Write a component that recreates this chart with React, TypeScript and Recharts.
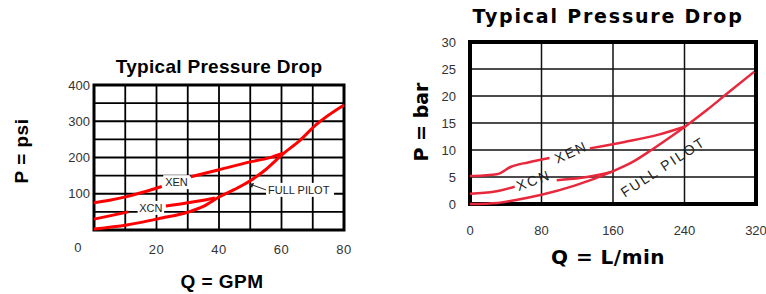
import React from "react";
import {
  LineChart,
  Line,
  XAxis,
  YAxis,
  CartesianGrid,
  ReferenceArea,
  ReferenceDot,
} from "recharts";

// ---- left chart: psi vs GPM ----
const gpmTicks = [0, 20, 40, 60, 80];
const psiTicks = [100, 200, 300, 400];
const gpmGrid = [10, 20, 30, 40, 50, 60, 70];
const psiGrid = [50, 100, 150, 200, 250, 300, 350];

const psiXen = [
  { q: 0, p: 75 },
  { q: 5, p: 82 },
  { q: 10.5, p: 92 },
  { q: 16, p: 105 },
  { q: 21.7, p: 120 },
  { q: 26, p: null },
  { q: 31, p: 147 },
  { q: 40, p: 166 },
  { q: 50, p: 188 },
  { q: 56, p: 199 },
  { q: 60.5, p: 212 },
];
const psiXcn = [
  { q: 0, p: 30 },
  { q: 5, p: 39 },
  { q: 11, p: 50 },
  { q: 17, p: null },
  { q: 23, p: 66 },
  { q: 30, p: 75 },
  { q: 35.5, p: 83 },
  { q: 38.7, p: 88 },
];
const psiFull = [
  { q: 0, p: 3 },
  { q: 10.5, p: 14 },
  { q: 21.7, p: 33 },
  { q: 30, p: 49 },
  { q: 35, p: 65 },
  { q: 40, p: 91 },
  { q: 45, p: 112 },
  { q: 50, p: 136 },
  { q: 55, p: 167 },
  { q: 60.5, p: 210 },
  { q: 66, p: 248 },
  { q: 71, p: 290 },
  { q: 80, p: 345 },
];
const psiNotes = [
  { text: "XEN", q: 26.4, p: 132 },
  { text: "XCN", q: 18.2, p: 61 },
];
const psiArrow = { text: "FULL PILOT", q: 49.3, p: 130 };

// ---- right chart: bar vs L/min ----
const lpmTicks = [0, 80, 160, 240, 320];
const barTicks = [0, 5, 10, 15, 20, 25, 30];
const lpmGrid = [80, 160, 240];
const barGrid = [5, 10, 15, 20, 25];

const barXen = [
  { q: 0, p: 5.2 },
  { q: 15, p: 5.3 },
  { q: 30, p: 5.5 },
  { q: 46, p: 6.9 },
  { q: 65, p: 7.7 },
  { q: 89, p: 8.5 },
  { q: 110, p: null },
  { q: 134, p: 10.3 },
  { q: 173, p: 11.5 },
  { q: 210, p: 12.8 },
  { q: 240, p: 14.3 },
];
const barXcn = [
  { q: 0, p: 1.9 },
  { q: 28, p: 2.3 },
  { q: 50, p: 3.2 },
  { q: 72, p: null },
  { q: 97, p: 4.4 },
  { q: 134, p: 5.1 },
  { q: 159, p: 6 },
];
const barFull = [
  { q: 0, p: 0 },
  { q: 31, p: 0.2 },
  { q: 50, p: 0.7 },
  { q: 80, p: 1.7 },
  { q: 117, p: 3.4 },
  { q: 159, p: 6 },
  { q: 180, p: 7.6 },
  { q: 203, p: 10 },
  { q: 225, p: 12.5 },
  { q: 242, p: 14.5 },
  { q: 265, p: 17.4 },
  { q: 288, p: 20.5 },
  { q: 318, p: 24.5 },
];
const barNotes = [
  { text: "XEN", q: 113, p: 9.6, angle: -24 },
  { text: "XCN", q: 71, p: 4.4, angle: -20 },
  { text: "FULL PILOT", q: 216, p: 6.9, angle: -33 },
];

const ARIAL = "'Liberation Sans', Arial, sans-serif";
const DEJAVU = "'DejaVu Sans', Verdana, sans-serif";
const RED_L = "#ff0000";
const RED_R = "#e8283c";

const LeftXTick = ({ x, y, payload }: any) => {
  const zero = payload.value === 0;
  return (
    <text x={zero ? x - 16 : x} y={zero ? y - 2 : y} textAnchor="middle" dominantBaseline="central"
      fontSize={13} fill="#333" fontFamily={ARIAL} letterSpacing={0.5}>
      {payload.value}
    </text>
  );
};

const YTick = ({ x, y, payload }: any) => (
  <text x={x} y={y} textAnchor="end" dominantBaseline="central" fontSize={13} fill="#333" fontFamily={ARIAL}>
    {payload.value}
  </text>
);

const XTick = ({ x, y, payload }: any) => (
  <text x={x} y={y} textAnchor="middle" dominantBaseline="central" fontSize={13} fill="#333" fontFamily={ARIAL}>
    {payload.value}
  </text>
);

const BoxNote = ({ cx, cy, text }: any) => {
  const w = text.length * 7.5 + 4;
  return (
    <g>
      <rect x={cx - w / 2} y={cy - 7} width={w} height={14} fill="#fff" />
      <text x={cx} y={cy} textAnchor="middle" dominantBaseline="central" fontSize={11} fill="#222" fontFamily={ARIAL}>
        {text}
      </text>
    </g>
  );
};

const ArrowNote = ({ cx, cy, text }: any) => (
  <g>
    <rect x={cx + 18} y={cy} width={68} height={14} fill="#fff" />
    <path d={`M${cx + 1},${cy + 1} L${cx + 6},${cy} L${cx + 4},${cy + 5} Z`} fill="#222" />
    <line x1={cx + 4} y1={cy + 2} x2={cx + 18} y2={cy + 7} stroke="#222" strokeWidth={1} />
    <text x={cx + 20} y={cy + 7} dominantBaseline="central" fontSize={11} fill="#222" fontFamily={ARIAL}>
      {text}
    </text>
  </g>
);

const TiltNote = ({ cx, cy, text, angle }: any) => (
  <text x={cx} y={cy} textAnchor="middle" dominantBaseline="central" fontSize={14} fill="#222"
    fontFamily={ARIAL} letterSpacing={2} transform={`rotate(${angle} ${cx} ${cy})`}>
    {text}
  </text>
);

const abs = (left: number, top: number): React.CSSProperties => ({
  position: "absolute",
  left,
  top,
  transform: "translate(-50%, -50%)",
  whiteSpace: "nowrap",
  fontWeight: "bold",
  color: "#000",
  lineHeight: 1,
});

export default function App() {
  return (
    <div style={{ position: "fixed", left: 0, top: 0, width: 766, height: 294, background: "#fff", overflow: "hidden" }}>
      <div style={{ position: "absolute", left: 0, top: 0 }}>
        <LineChart width={380} height={294} margin={{ top: 85, right: 36, bottom: 34, left: 0 }}>
          <CartesianGrid stroke="#000" strokeWidth={1.8} horizontalValues={psiGrid} verticalValues={gpmGrid} />
          <XAxis type="number" dataKey="q" domain={[0, 80]} ticks={gpmTicks} height={30} axisLine={false}
            tickLine={false} tickSize={0} tickMargin={19} tick={(p: any) => <LeftXTick {...p} />} interval={0} />
          <YAxis type="number" domain={[0, 400]} ticks={psiTicks} width={94} axisLine={false}
            tickLine={false} tickSize={0} tickMargin={4} tick={(p: any) => <YTick {...p} />} interval={0} />
          <ReferenceArea x1={0} x2={80} y1={0} y2={400} fill="none" fillOpacity={0} stroke="#000" strokeWidth={3} />
          <Line data={psiXen} dataKey="p" type="monotone" stroke={RED_L} strokeWidth={3} dot={false} isAnimationActive={false} />
          <Line data={psiXcn} dataKey="p" type="monotone" stroke={RED_L} strokeWidth={3} dot={false} isAnimationActive={false} />
          <Line data={psiFull} dataKey="p" type="monotone" stroke={RED_L} strokeWidth={3} dot={false} isAnimationActive={false} />
          {psiNotes.map((n) => (
            <ReferenceDot key={n.text} x={n.q} y={n.p} r={0} ifOverflow="visible"
              shape={(p: any) => <BoxNote {...p} text={n.text} />} />
          ))}
          <ReferenceDot x={psiArrow.q} y={psiArrow.p} r={0} ifOverflow="visible"
            shape={(p: any) => <ArrowNote {...p} text={psiArrow.text} />} />
        </LineChart>
      </div>
      <div style={{ ...abs(219, 66), fontFamily: ARIAL, fontSize: 19, letterSpacing: 0.3 }}>Typical Pressure Drop</div>
      <div style={{ ...abs(21, 151), fontFamily: ARIAL, fontSize: 19, letterSpacing: 0.5, transform: "translate(-50%, -50%) rotate(-90deg)" }}>P = psi</div>
      <div style={{ ...abs(222, 281), fontFamily: ARIAL, fontSize: 19, letterSpacing: 0.5 }}>Q = GPM</div>

      <div style={{ position: "absolute", left: 400, top: 0 }}>
        <LineChart width={366} height={294} margin={{ top: 42, right: 10, bottom: 60, left: 0 }}>
          <CartesianGrid stroke="#111" strokeWidth={1.5} horizontalValues={barGrid} verticalValues={lpmGrid} />
          <XAxis type="number" dataKey="q" domain={[0, 320]} ticks={lpmTicks} height={30} axisLine={false}
            tickLine={false} tickSize={0} tickMargin={26} tick={(p: any) => <XTick {...p} />} interval={0} />
          <YAxis type="number" domain={[0, 30]} ticks={barTicks} width={70} axisLine={false}
            tickLine={false} tickSize={0} tickMargin={14} tick={(p: any) => <YTick {...p} />} interval={0} />
          <ReferenceArea x1={0} x2={320} y1={0} y2={30} fill="none" fillOpacity={0} stroke="#000" strokeWidth={4} />
          <Line data={barXen} dataKey="p" type="monotone" stroke={RED_R} strokeWidth={2.5} dot={false} isAnimationActive={false} />
          <Line data={barXcn} dataKey="p" type="monotone" stroke={RED_R} strokeWidth={2.5} dot={false} isAnimationActive={false} />
          <Line data={barFull} dataKey="p" type="monotone" stroke={RED_R} strokeWidth={2.5} dot={false} isAnimationActive={false} />
          {barNotes.map((n) => (
            <ReferenceDot key={n.text} x={n.q} y={n.p} r={0} ifOverflow="visible"
              shape={(p: any) => <TiltNote {...p} text={n.text} angle={n.angle} />} />
          ))}
        </LineChart>
      </div>
      <div style={{ ...abs(608, 16), fontFamily: DEJAVU, fontSize: 19, letterSpacing: 1.8 }}>Typical Pressure Drop</div>
      <div style={{ ...abs(421, 122), fontFamily: DEJAVU, fontSize: 19, transform: "translate(-50%, -50%) rotate(-90deg)" }}>P = bar</div>
      <div style={{ ...abs(608, 257), fontFamily: DEJAVU, fontSize: 20, letterSpacing: 0.5 }}>Q = L/min</div>
    </div>
  );
}
